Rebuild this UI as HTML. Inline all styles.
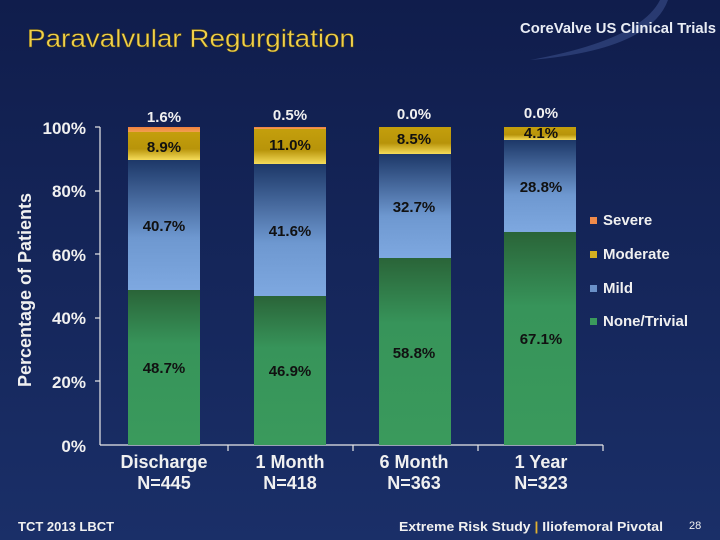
<!DOCTYPE html>
<html><head><style>
html,body{margin:0;padding:0;width:720px;height:540px;overflow:hidden;background:#14245a}
svg{display:block}
text{font-family:"Liberation Sans",Arial,sans-serif}
</style></head><body>
<svg width="720" height="540" viewBox="0 0 720 540" font-family="Liberation Sans, Arial, sans-serif">
<defs>
<linearGradient id="bg" x1="0" y1="0" x2="0" y2="1"><stop offset="0" stop-color="#101d4c"/><stop offset="1" stop-color="#1a2f68"/></linearGradient>
<linearGradient id="mod" x1="0" y1="0" x2="0" y2="1"><stop offset="0" stop-color="#c49f0c"/><stop offset="0.6" stop-color="#b8940a"/><stop offset="1" stop-color="#f5dc5a"/></linearGradient>
<linearGradient id="mild" x1="0" y1="0" x2="0" y2="1"><stop offset="0" stop-color="#1d3868"/><stop offset="0.6" stop-color="#6e98d0"/><stop offset="1" stop-color="#7ea8e0"/></linearGradient>
<linearGradient id="grn" x1="0" y1="0" x2="0" y2="1"><stop offset="0" stop-color="#2a6438"/><stop offset="0.35" stop-color="#37945a"/><stop offset="1" stop-color="#3a9a5c"/></linearGradient>
<linearGradient id="sev" x1="0" y1="0" x2="0" y2="1"><stop offset="0" stop-color="#f08040"/><stop offset="1" stop-color="#f0a050"/></linearGradient>
</defs>
<rect width="720" height="540" fill="url(#bg)"/>
<path d="M530 60 Q640 40 660 0 L668 0 Q650 50 530 60Z" fill="#3a4f8a" opacity="0.6"/>
<text x="27" y="47" font-size="25" fill="#f0d04a" stroke="#5a4a10" stroke-width="0.4" textLength="328" lengthAdjust="spacingAndGlyphs">Paravalvular Regurgitation</text>
<text x="716" y="33" font-size="15" font-weight="bold" fill="#e8ecf4" text-anchor="end" textLength="196" lengthAdjust="spacingAndGlyphs">CoreValve US Clinical Trials</text>

<g font-weight="bold" font-size="17" fill="#f0f0f0" text-anchor="end">
<text x="86" y="134">100%</text><text x="86" y="197">80%</text><text x="86" y="261">60%</text><text x="86" y="324">40%</text><text x="86" y="388">20%</text><text x="86" y="452">0%</text>
</g>
<text transform="translate(31,290) rotate(-90)" font-size="18" font-weight="bold" fill="#f0f0f0" text-anchor="middle">Percentage of Patients</text>
<g stroke="#e8e8e8" stroke-width="1.2">
<line x1="100" y1="127" x2="100" y2="445"/><line x1="100" y1="445" x2="603" y2="445"/>
<line x1="95" y1="127" x2="100" y2="127"/><line x1="95" y1="191" x2="100" y2="191"/><line x1="95" y1="254" x2="100" y2="254"/><line x1="95" y1="318" x2="100" y2="318"/><line x1="95" y1="381" x2="100" y2="381"/>
<line x1="228" y1="445" x2="228" y2="451"/><line x1="353" y1="445" x2="353" y2="451"/><line x1="478" y1="445" x2="478" y2="451"/><line x1="603" y1="445" x2="603" y2="451"/>
</g>

<rect x="128" y="290" width="72" height="155" fill="url(#grn)"/>
<rect x="128" y="160" width="72" height="130" fill="url(#mild)"/>
<rect x="128" y="132" width="72" height="28" fill="url(#mod)"/>
<rect x="128" y="127" width="72" height="5" fill="url(#sev)"/>

<rect x="254" y="296" width="72" height="149" fill="url(#grn)"/>
<rect x="254" y="164" width="72" height="132" fill="url(#mild)"/>
<rect x="254" y="129" width="72" height="35" fill="url(#mod)"/>
<rect x="254" y="127" width="72" height="2" fill="url(#sev)"/>

<rect x="379" y="258" width="72" height="187" fill="url(#grn)"/>
<rect x="379" y="154" width="72" height="104" fill="url(#mild)"/>
<rect x="379" y="127" width="72" height="27" fill="url(#mod)"/>

<rect x="504" y="232" width="72" height="213" fill="url(#grn)"/>
<rect x="504" y="140" width="72" height="92" fill="url(#mild)"/>
<rect x="504" y="127" width="72" height="13" fill="url(#mod)"/>

<g font-weight="bold" font-size="15" text-anchor="middle">
<g fill="#f0f0f0"><text x="164" y="122">1.6%</text><text x="290" y="120">0.5%</text><text x="414" y="119">0.0%</text><text x="541" y="118">0.0%</text></g>
<g fill="#111">
<text x="164" y="152">8.9%</text><text x="290" y="150">11.0%</text><text x="414" y="144">8.5%</text><text x="541" y="138">4.1%</text>
<text x="164" y="231">40.7%</text><text x="290" y="236">41.6%</text><text x="414" y="212">32.7%</text><text x="541" y="192">28.8%</text>
<text x="164" y="373">48.7%</text><text x="290" y="376">46.9%</text><text x="414" y="358">58.8%</text><text x="541" y="344">67.1%</text>
</g>
</g>

<g font-weight="bold" font-size="18" fill="#f0f0f0" text-anchor="middle">
<text x="164" y="468">Discharge</text><text x="164" y="489">N=445</text>
<text x="290" y="468">1 Month</text><text x="290" y="489">N=418</text>
<text x="414" y="468">6 Month</text><text x="414" y="489">N=363</text>
<text x="541" y="468">1 Year</text><text x="541" y="489">N=323</text>
</g>

<g font-weight="bold" font-size="15" fill="#f0f0f0">
<rect x="590" y="217" width="7" height="7" fill="#f08a4a"/><text x="603" y="225">Severe</text>
<rect x="590" y="251" width="7" height="7" fill="#d4b020"/><text x="603" y="259">Moderate</text>
<rect x="590" y="285" width="7" height="7" fill="#6a90c8"/><text x="603" y="293">Mild</text>
<rect x="590" y="318" width="7" height="7" fill="#3a9a5c"/><text x="603" y="326">None/Trivial</text>
</g>

<text x="18" y="531" font-size="13" font-weight="bold" fill="#f0f0f0">TCT 2013 LBCT</text>
<text x="399" y="531" font-size="13" font-weight="bold" fill="#f0f0f0" textLength="264" lengthAdjust="spacingAndGlyphs">Extreme Risk Study <tspan fill="#e0b030">|</tspan> Iliofemoral Pivotal</text>
<text x="689" y="529" font-size="11" fill="#f0f0f0">28</text>
</svg>
</body></html>
